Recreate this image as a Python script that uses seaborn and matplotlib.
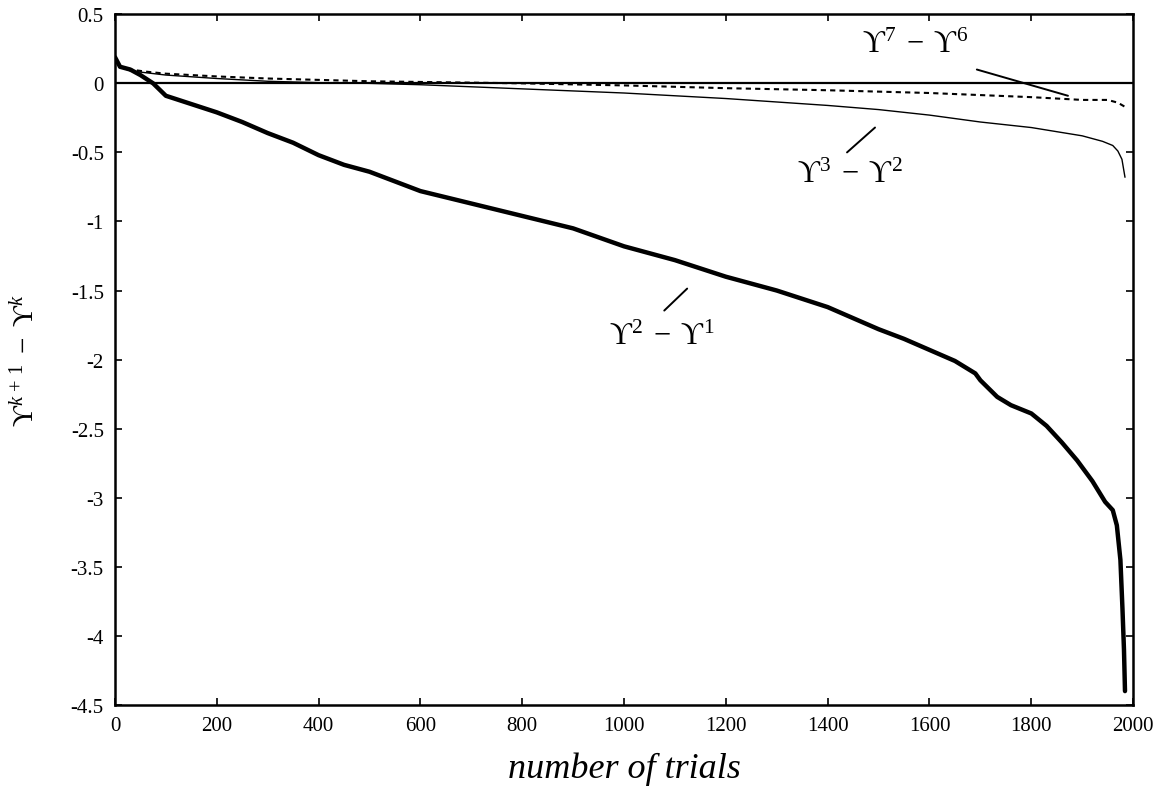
import matplotlib
matplotlib.use("Agg")
import matplotlib.pyplot as plt
import seaborn as sns
import numpy as np
import pandas as pd

# Sorted per-trial differences between successive upsilon estimates
x_21 = [0, 10, 30, 50, 75, 100, 150, 200, 250, 300, 350, 400, 450, 500, 600, 700,
        800, 900, 1000, 1100, 1200, 1300, 1400, 1450, 1500, 1550, 1600, 1650, 1690,
        1700, 1733, 1760, 1800, 1830, 1860, 1890, 1920, 1945, 1960, 1968, 1975,
        1979, 1982, 1984]
y_21 = [0.19, 0.12, 0.10, 0.06, 0.0, -0.09, -0.15, -0.21, -0.28, -0.36, -0.43, -0.52,
        -0.59, -0.64, -0.78, -0.87, -0.96, -1.05, -1.18, -1.28, -1.40, -1.50, -1.62,
        -1.70, -1.78, -1.85, -1.93, -2.01, -2.10, -2.15, -2.27, -2.33, -2.39, -2.48,
        -2.60, -2.73, -2.88, -3.03, -3.09, -3.20, -3.45, -3.80, -4.10, -4.40]

x_32 = [0, 10, 30, 100, 200, 300, 400, 500, 600, 800, 1000, 1200, 1400, 1500, 1600,
        1700, 1800, 1850, 1900, 1940, 1960, 1970, 1978, 1984]
y_32 = [0.19, 0.12, 0.09, 0.06, 0.035, 0.015, 0.005, 0.0, -0.01, -0.04, -0.07, -0.11,
        -0.16, -0.19, -0.23, -0.28, -0.32, -0.35, -0.38, -0.42, -0.45, -0.49, -0.55,
        -0.68]

x_76 = [0, 10, 30, 60, 100, 200, 300, 400, 500, 600, 800, 1000, 1200, 1400, 1500,
        1600, 1700, 1800, 1850, 1900, 1950, 1970, 1984]
y_76 = [0.19, 0.12, 0.10, 0.085, 0.07, 0.05, 0.035, 0.025, 0.015, 0.01, 0.0, -0.015,
        -0.035, -0.05, -0.06, -0.07, -0.085, -0.10, -0.11, -0.12, -0.12, -0.14, -0.17]

x_ticks = [0, 200, 400, 600, 800, 1000, 1200, 1400, 1600, 1800, 2000]
y_ticks = [0.5, 0, -0.5, -1, -1.5, -2, -2.5, -3, -3.5, -4, -4.5]
y_tick_labels = ["0.5", "0", "-0.5", "-1", "-1.5", "-2", "-2.5", "-3", "-3.5", "-4", "-4.5"]
x_tick_labels = [str(v) for v in x_ticks]

sns.set_theme(style="ticks")
plt.rcParams["font.family"] = ["Liberation Serif", "DejaVu Serif"]
plt.rcParams["mathtext.fontset"] = "custom"
plt.rcParams["mathtext.rm"] = "Liberation Serif"
plt.rcParams["mathtext.it"] = "Liberation Serif:italic"
plt.rcParams["mathtext.fallback"] = "stix"
plt.rcParams["text.color"] = "black"
plt.rcParams["axes.labelcolor"] = "black"

fig = plt.figure(figsize=(11.61, 8.04), dpi=100)
ax = fig.add_axes([0.099, 0.122, 0.877, 0.859])

ax.axhline(0, color="black", lw=1.6, zorder=1)

d21 = pd.DataFrame({"trials": x_21, "diff": y_21})
d32 = pd.DataFrame({"trials": x_32, "diff": y_32})
d76 = pd.DataFrame({"trials": x_76, "diff": y_76})

sns.lineplot(data=d21, x="trials", y="diff", ax=ax, color="black", lw=3.2,
             sort=False, estimator=None)
sns.lineplot(data=d32, x="trials", y="diff", ax=ax, color="black", lw=1.0,
             sort=False, estimator=None)
sns.lineplot(data=d76, x="trials", y="diff", ax=ax, color="black", lw=1.5,
             sort=False, estimator=None, linestyle=(0, (2.5, 2.0)))

ax.set_xlim(0, 2000)
ax.set_ylim(-4.5, 0.5)
ax.set_xticks(x_ticks)
ax.set_xticklabels(x_tick_labels)
ax.set_yticks(y_ticks)
ax.set_yticklabels(y_tick_labels)
ax.tick_params(direction="in", length=5, width=1.2, top=True, right=True,
               labelsize=15, colors="black", pad=8)
for s in ax.spines.values():
    s.set_linewidth(1.8)
    s.set_color("black")

ax.set_xlabel("number of trials", fontsize=26, style="italic", color="black")
ax.xaxis.set_label_coords(0.5, -0.068)
ax.set_ylabel(r"$\mathrm{ϒ}^{k\,+\,1}\;-\;\mathrm{ϒ}^{k}$", fontsize=21, color="black")
ax.yaxis.set_label_coords(-0.074, 0.5)

# Curve labels with leader lines
ax.text(1572, 0.28, r"$\mathrm{ϒ}^{7}\;-\;\mathrm{ϒ}^{6}$", fontsize=22,
        ha="center", va="center", color="black")
ax.plot([1693, 1872], [0.10, -0.09], color="black", lw=1.4)
ax.text(1444, -0.66, r"$\mathrm{ϒ}^{3}\;-\;\mathrm{ϒ}^{2}$", fontsize=22,
        ha="center", va="center", color="black")
ax.plot([1438, 1493], [-0.50, -0.32], color="black", lw=1.4)
ax.text(1075, -1.83, r"$\mathrm{ϒ}^{2}\;-\;\mathrm{ϒ}^{1}$", fontsize=22,
        ha="center", va="center", color="black")
ax.plot([1079, 1124], [-1.645, -1.486], color="black", lw=1.4)

fig.savefig("out.png", dpi=100)
